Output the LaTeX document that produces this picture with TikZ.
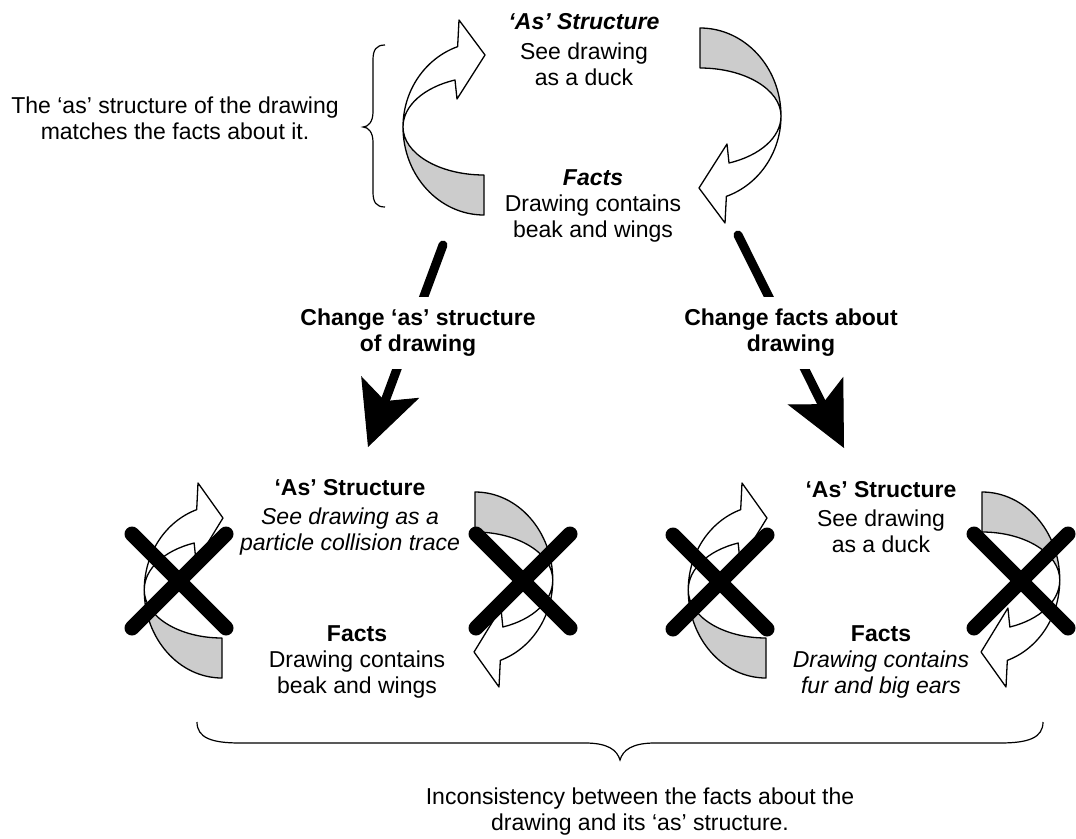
\documentclass[tikz,border=0pt]{standalone}
\usepackage{fontspec}
\setmainfont{Liberation Sans}
\usetikzlibrary{arrows.meta}
\definecolor{bandgray}{gray}{0.8}
\tikzset{
	bandline/.style={draw=black,line width=1.3pt,line join=round},
	xstroke/.style={line width=15pt,line cap=round},
	bigline/.style={line width=9pt,line cap=round,-{Stealth[length=64pt,width=62pt,inset=15pt,line width=1pt]}},
	txt/.style={align=center,inner sep=0pt,font=\fontsize{23}{26}\selectfont},
	cut/.style={txt,fill=white,inner xsep=4pt,inner ysep=12pt},
	brace/.style={line width=1.2pt},
	curvedarrow/.pic={
		\draw[bandline,fill=white] (-81,0) arc[start angle=180,end angle=251,x radius=81,y radius=85] -- (-25,-107) -- (1,-72) -- (-27,-28) -- (-29,-47) arc[start angle=249,end angle=180,x radius=81,y radius=50] -- cycle;
		\draw[bandline,fill=bandgray] (-81,0) arc[start angle=180,end angle=90,x radius=81,y radius=88] -- (0,48) arc[start angle=90,end angle=180,x radius=81,y radius=48] -- cycle;
	},
	xmark/.pic={
		\draw[xstroke] (-47,-47) -- (47,47) (47,-47) -- (-47,47);
	}
}
\begin{document}
\begin{tikzpicture}[x=1pt,y=-1pt]
	\useasboundingbox (0,0) rectangle (1076,838);
	% top pair
	\pic at (484,127) {curvedarrow};
	\pic[rotate=180] at (700,116) {curvedarrow};
	\node[txt] (topas) at (584,50) {\textbf{\textit{‘As’ Structure}}\\[4pt]See drawing\\as a duck};
	\node[txt] (topfacts) at (593,206) {\textbf{\textit{Facts}}\\Drawing contains\\beak and wings};
	\draw[brace] (385,45) .. controls (376,45) and (373,50) .. (373,60) -- (373,112) .. controls (373,122) and (368,127) .. (363,127) .. controls (368,127) and (373,132) .. (373,142) -- (373,192) .. controls (373,202) and (376,207) .. (385,207);
	\node[txt] (note) at (175,118) {The ‘as’ structure of the drawing\\matches the facts about it.};
	% the two changes
	\coordinate (lfrom) at (443,245);
	\coordinate (lto) at (368,447);
	\coordinate (rfrom) at (738,235);
	\coordinate (rto) at (844,448);
	\draw[bigline] (lfrom) -- (lto);
	\draw[bigline] (rfrom) -- (rto);
	\node[cut] (lchange) at (418,333) {\textbf{Change ‘as’ structure}\\\textbf{of drawing}};
	\node[cut] (rchange) at (791,333) {\textbf{Change facts about}\\\textbf{drawing}};
	% bottom left
	\pic[xscale=0.96] at (222,590) {curvedarrow};
	\pic[rotate=180,xscale=0.96] at (475,580) {curvedarrow};
	\node[txt] (blas) at (350,517) {\textbf{‘As’ Structure}\\[3pt]\textit{See drawing as a}\\\textit{particle collision trace}};
	\node[txt] (blfacts) at (357,662) {\textbf{Facts}\\Drawing contains\\beak and wings};
	\pic at (179,581) {xmark};
	\pic at (523,581) {xmark};
	% bottom right
	\pic[xscale=0.96] at (766,590) {curvedarrow};
	\pic[rotate=180,xscale=0.96] at (982,580) {curvedarrow};
	\node[txt] (bras) at (881,517) {\textbf{‘As’ Structure}\\[3pt]See drawing\\as a duck};
	\node[txt] (brfacts) at (881,662) {\textbf{Facts}\\\textit{Drawing contains}\\\textit{fur and big ears}};
	\pic at (720,582) {xmark};
	\pic at (1021,581) {xmark};
	% inconsistency
	\draw[brace] (197,722) .. controls (197,738) and (212,743) .. (240,743) -- (585,743) .. controls (608,743) and (617,750) .. (620,760) .. controls (623,750) and (632,743) .. (655,743) -- (1000,743) .. controls (1028,743) and (1043,738) .. (1043,722);
	\node[txt] (incons) at (640,812) {Inconsistency between the facts about the\\drawing and its ‘as’ structure.};
\end{tikzpicture}
\end{document}
